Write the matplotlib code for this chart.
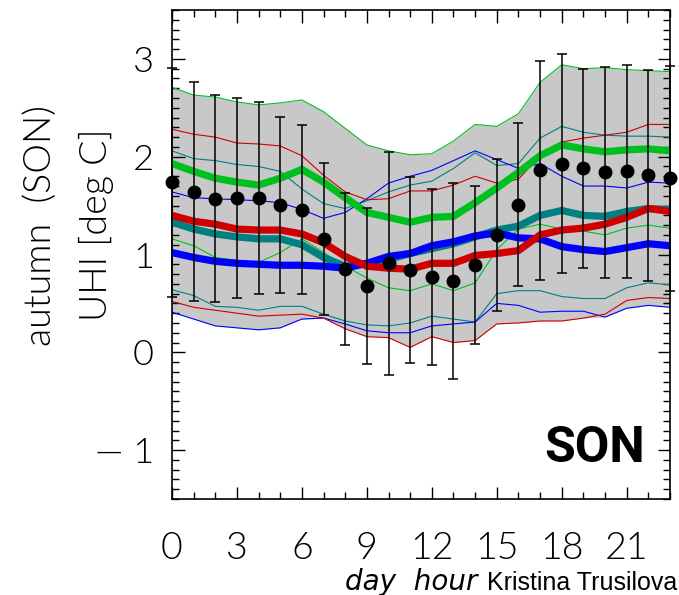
import numpy as np
import matplotlib
matplotlib.use('Agg')
import matplotlib.pyplot as plt
from matplotlib.ticker import MultipleLocator

hours = np.arange(24)

# observed UHI (dots) and its spread (error bars)
obs_mean = [1.74, 1.64, 1.57, 1.58, 1.58, 1.51, 1.46, 1.16, 0.85, 0.68, 0.91, 0.84,
            0.77, 0.73, 0.89, 1.20, 1.51, 1.86, 1.93, 1.88, 1.84, 1.85, 1.81, 1.78]
obs_std = [1.17, 1.12, 1.06, 1.02, 0.98, 0.90, 0.86, 0.78, 0.78, 0.80, 1.14, 0.95,
           0.90, 1.00, 0.81, 0.78, 0.83, 1.12, 1.12, 1.02, 1.08, 1.09, 1.08, 1.15]

# model runs: mean, upper and lower thin lines
green_mean = [1.93, 1.85, 1.78, 1.74, 1.71, 1.78, 1.87, 1.74, 1.58, 1.43, 1.38, 1.33,
              1.38, 1.39, 1.53, 1.68, 1.84, 2.01, 2.12, 2.08, 2.05, 2.07, 2.08, 2.06]
green_hi = [2.71, 2.63, 2.61, 2.56, 2.53, 2.55, 2.58, 2.46, 2.29, 2.12, 2.06, 2.02,
            2.03, 2.16, 2.33, 2.31, 2.44, 2.76, 2.94, 2.90, 2.91, 2.89, 2.88, 2.87]
green_lo = [1.16, 1.09, 0.97, 0.94, 0.92, 1.02, 1.16, 1.02, 0.88, 0.76, 0.66, 0.63,
            0.70, 0.63, 0.71, 1.05, 1.26, 1.31, 1.26, 1.24, 1.20, 1.27, 1.30, 1.27]

teal_mean = [1.33, 1.26, 1.21, 1.18, 1.16, 1.16, 1.10, 0.97, 0.88, 0.91, 0.95, 1.01,
             1.06, 1.11, 1.18, 1.25, 1.29, 1.40, 1.45, 1.40, 1.39, 1.44, 1.47, 1.46]
teal_hi = [2.06, 1.98, 1.96, 1.92, 1.90, 1.85, 1.67, 1.52, 1.47, 1.55, 1.64, 1.71,
           1.75, 1.88, 2.04, 1.91, 1.93, 2.19, 2.31, 2.25, 2.22, 2.21, 2.21, 2.20]
teal_lo = [0.64, 0.58, 0.47, 0.46, 0.43, 0.47, 0.47, 0.39, 0.32, 0.28, 0.27, 0.30,
           0.37, 0.34, 0.31, 0.60, 0.63, 0.63, 0.57, 0.55, 0.55, 0.66, 0.71, 0.69]

red_mean = [1.40, 1.34, 1.31, 1.26, 1.25, 1.25, 1.21, 1.12, 0.98, 0.88, 0.86, 0.85,
            0.91, 0.91, 0.99, 1.01, 1.04, 1.20, 1.25, 1.27, 1.31, 1.38, 1.47, 1.44]
red_hi = [2.28, 2.23, 2.20, 2.14, 2.13, 2.11, 2.01, 1.81, 1.64, 1.56, 1.57, 1.65,
          1.65, 1.71, 1.80, 1.73, 1.77, 2.01, 2.15, 2.19, 2.22, 2.25, 2.33, 2.33]
red_lo = [0.52, 0.46, 0.43, 0.40, 0.37, 0.38, 0.39, 0.35, 0.24, 0.16, 0.15, 0.05,
          0.16, 0.10, 0.12, 0.29, 0.30, 0.32, 0.32, 0.35, 0.39, 0.53, 0.56, 0.55]

blue_mean = [1.02, 0.97, 0.93, 0.91, 0.90, 0.89, 0.89, 0.88, 0.86, 0.91, 0.98, 1.01,
             1.09, 1.13, 1.19, 1.22, 1.17, 1.16, 1.08, 1.05, 1.03, 1.07, 1.11, 1.09]
blue_hi = [1.64, 1.58, 1.57, 1.56, 1.55, 1.53, 1.46, 1.37, 1.43, 1.57, 1.73, 1.80,
           1.86, 1.96, 2.06, 1.97, 1.88, 1.93, 1.80, 1.70, 1.70, 1.68, 1.74, 1.73]
blue_lo = [0.41, 0.34, 0.27, 0.25, 0.23, 0.25, 0.34, 0.35, 0.29, 0.22, 0.20, 0.20,
           0.27, 0.29, 0.31, 0.50, 0.48, 0.41, 0.42, 0.42, 0.36, 0.45, 0.48, 0.46]

xticks = [0, 3, 6, 9, 12, 15, 18, 21]
yticks = [-1, 0, 1, 2, 3]

GREEN = '#00c020'
TEAL = '#008080'
RED = '#d00000'
BLUE = '#0000ff'

thin = 'Lato'
thin_w = 300

fig = plt.figure(figsize=(6.79, 5.95), dpi=100)
ax = fig.add_axes([172/679, 1-499/595, 498/679, 489/595])

# grey envelope of all model spreads
env_hi = np.maximum.reduce([green_hi, teal_hi, red_hi, blue_hi])
env_lo = np.minimum.reduce([green_lo, teal_lo, red_lo, blue_lo])
ax.fill_between(hours, env_lo, env_hi, color='#c8c8c8', lw=0, zorder=1)

series = [(green_mean, green_hi, green_lo, GREEN),
          (teal_mean, teal_hi, teal_lo, TEAL),
          (blue_mean, blue_hi, blue_lo, BLUE),
          (red_mean, red_hi, red_lo, RED)]

for mean, hi, lo, c in series:
    ax.plot(hours, hi, color=c, lw=0.8, zorder=2)
    ax.plot(hours, lo, color=c, lw=0.8, zorder=2)
for mean, hi, lo, c in series:
    ax.plot(hours, mean, color=c, lw=5.2, zorder=3, solid_joinstyle='miter')

ax.errorbar(hours, obs_mean, yerr=obs_std, fmt='o', color='black', ms=9,
            ecolor='black', elinewidth=1.1, capsize=3.3, capthick=1.1,
            zorder=5, clip_on=False)

ax.set_xlim(0, 23)
ax.set_ylim(-1.5, 3.5)
ax.set_xticks(xticks)
ax.set_yticks(yticks)
ax.set_yticklabels(['\u2014 1' if v < 0 else str(v) for v in yticks])
ax.xaxis.set_minor_locator(MultipleLocator(1))
ax.yaxis.set_minor_locator(MultipleLocator(0.1))
ax.tick_params(which='both', direction='in', top=True, right=True, width=1)
ax.tick_params(which='major', length=9)
ax.tick_params(which='minor', length=5)
ax.tick_params(axis='y', which='major', pad=13, labelsize=26)
ax.tick_params(axis='x', which='major', pad=24, labelsize=27)
for lab in ax.get_xticklabels() + ax.get_yticklabels():
    lab.set_family(thin)
    lab.set_fontweight(thin_w)
for s in ax.spines.values():
    s.set_linewidth(1.2)

fig.text(41/679, 1-226/595, 'autumn  (SON)', rotation=90, ha='center', va='center',
         fontsize=27, family=thin, fontweight=thin_w)
fig.text(96/679, 1-225/595, 'UHI [deg C]', rotation=90, ha='center', va='center',
         fontsize=27, family=thin, fontweight=thin_w)

ax.text(645/679, 1-462/595, 'SON', transform=fig.transFigure, ha='right',
        va='baseline', fontsize=36, fontweight='bold', family='Roboto')

fig.text(345/679, 1-590/595, 'day  hour', ha='left', va='baseline', fontsize=20,
         style='italic', family='DejaVu Sans')
fig.text(487/679, 1-590/595, 'Kristina Trusilova', ha='left', va='baseline',
         fontsize=18, family='Liberation Sans')

fig.savefig('out.png', dpi=100)
